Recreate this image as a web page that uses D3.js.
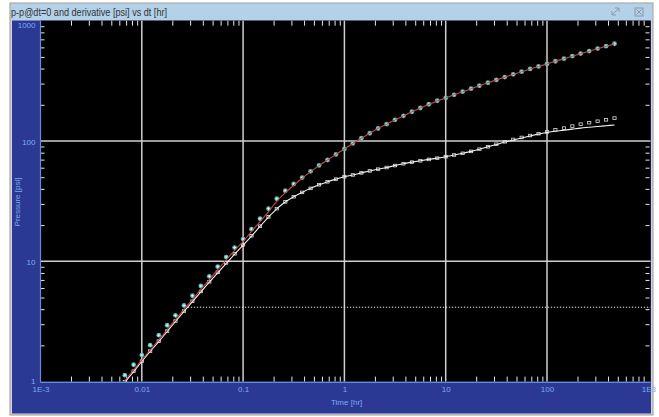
<!DOCTYPE html>
<html><head><meta charset="utf-8">
<script src="https://cdn.jsdelivr.net/npm/d3@7"></script>
<style>html,body{margin:0;padding:0;background:#fff;overflow:hidden}</style>
</head><body><svg id="c" width="659" height="417"></svg>
<script>
// ---- data ----
const time = [0.0056, 0.0068, 0.0083, 0.01, 0.0121, 0.0147, 0.0178, 0.0215, 0.0261, 0.0316,
  0.0383, 0.0464, 0.0562, 0.0681, 0.0825, 0.1, 0.121, 0.147, 0.178, 0.215,
  0.261, 0.316, 0.383, 0.464, 0.562, 0.681, 0.825, 1, 1.21, 1.47,
  1.78, 2.15, 2.61, 3.16, 3.83, 4.64, 5.62, 6.81, 8.25, 10,
  12.1, 14.7, 17.8, 21.5, 26.1, 31.6, 38.3, 46.4, 56.2, 68.1,
  82.5, 100, 121, 147, 178, 215, 261, 316, 383, 464];
const pressure = [null, 1.13, 1.38, 1.66, 2.01, 2.43, 2.94, 3.55, 4.29, 5.17,
  6.23, 7.50, 9.03, 10.85, 13.0, 15.3, 18.5, 22.6, 27.4, 33.1,
  38.6, 43.9, 49.7, 56.0, 62.6, 69.5, 77.3, 86, 95.5, 105.5,
  116, 127, 138, 150, 162, 175, 188, 202, 216, 228,
  242, 257, 272, 288, 305, 322, 340, 358, 377, 397,
  417, 437, 460, 483, 508, 533, 559, 586, 614, 643];
const pressureModel = [0.84, 1.02, 1.25, 1.51, 1.83, 2.22, 2.70, 3.28, 3.98, 4.82,
  5.84, 7.05, 8.52, 10.3, 12.35, 14.6, 17.7, 21.4, 25.8, 31.5,
  37.2, 42.8, 49.0, 55.6, 62.4, 69.4, 77.2, 85.8, 95.3, 105.3,
  115.8, 126.8, 137.8, 149.8, 161.8, 174.8, 187.8, 201.5, 215.5, 228,
  242, 256.5, 271.5, 287.5, 304.5, 321.5, 339.5, 357.5, 376.5, 396.5,
  416.5, 436.5, 459.5, 482.5, 507, 532, 558, 585, 613, 642];
const derivative = [null, 1.0, 1.22, 1.48, 1.79, 2.17, 2.63, 3.19, 3.86, 4.66,
  5.62, 6.76, 8.1, 9.7, 11.55, 13.7, 16.3, 19.6, 23.4, 27.4,
  31.2, 34.4, 37.4, 40.4, 43.3, 45.8, 48.2, 50.5, 52.2, 54.3,
  56.4, 58.3, 60.2, 62.5, 64.8, 66.7, 68.5, 70.3, 72.0, 74,
  76.5, 79, 82, 85.5, 89.5, 94, 98.5, 103, 107, 111,
  115, 119, 124, 128, 133, 138, 142, 146, 150, 155];
const derivativeModel = [0.82, 0.99, 1.21, 1.47, 1.78, 2.15, 2.61, 3.16, 3.83, 4.62,
  5.57, 6.7, 8.03, 9.6, 11.45, 13.6, 16.2, 19.5, 23.3, 27.3,
  31.1, 34.4, 37.4, 40.4, 43.3, 45.8, 48.2, 50.5, 52.2, 54.3,
  56.4, 58.3, 60.2, 62.5, 64.8, 66.7, 68.5, 70.3, 72.0, 74,
  76.5, 79, 82, 85.5, 89.5, 93.5, 98, 102, 106, 110,
  114, 117.5, 120.5, 123, 125.5, 128, 130, 132, 134, 136];
const xTicks = [1e-3, 1e-2, 1e-1, 1, 10, 100, 1000];
const xTickLabels = ["1E-3", "0.01", "0.1", "1", "10", "100", "1E3"];
const yTicks = [1, 10, 100, 1000];
const yTickLabels = ["1", "10", "100", "1000"];
const refLevel = 4.15, refStart = 0.0285;
const title = "p-p@dt=0 and derivative [psi] vs dt [hr]";
const xTitle = "Time [hr]";
const yTitle = "Pressure [psi]";

// ---- layout ----
const L = 40.5, R = 650.5, T = 20.7, B = 381.6;
const svg = d3.select("#c");
const x = d3.scaleLog().domain([1e-3, 1e3]).range([L, L + 6 * 101.3]);
const y = d3.scaleLog().domain([1, 1000]).range([B, T]);
const lblFont = "'Liberation Sans Narrow','Liberation Sans',Arial,sans-serif";
const lblColor = "#7eaaf0";

svg.append("rect").attr("width", 659).attr("height", 417).attr("fill", "#fff");
// window frame
svg.append("rect").attr("x", 10).attr("y", 3).attr("width", 643).attr("height", 412)
  .attr("fill", "#d4d4d4").attr("stroke", "#9a9a9a").attr("stroke-width", 1);
svg.append("rect").attr("x", 11).attr("y", 4).attr("width", 641).attr("height", 16)
  .attr("fill", "#b3d1e8");
svg.append("text").attr("x", 11).attr("y", 16).attr("font-family", "'Liberation Sans',Arial,sans-serif")
  .attr("font-size", 10).attr("fill", "#333").attr("textLength", 156)
  .attr("lengthAdjust", "spacingAndGlyphs").text(title);
// title bar buttons
const btn = svg.append("g").attr("stroke", "#8a9aa8").attr("stroke-width", 1).attr("fill", "none");
btn.append("path").attr("d", "M612,15 L619,8 M615,8 L619,8 L619,12 M612,11 L612,15 L616,15");
btn.append("rect").attr("x", 635).attr("y", 8).attr("width", 8).attr("height", 8);
btn.append("path").attr("d", "M636.5,9.5 L641.5,14.5 M641.5,9.5 L636.5,14.5");

// blue panel
svg.append("rect").attr("x", 12).attr("y", 20.5).attr("width", 639).attr("height", 393)
  .attr("fill", "#2b3995");
// plot area
svg.append("rect").attr("x", L).attr("y", T).attr("width", R - L).attr("height", B - T)
  .attr("fill", "#000");
svg.append("defs").append("clipPath").attr("id", "clip")
  .append("rect").attr("x", L).attr("y", T).attr("width", R - L).attr("height", B - T);

// gridlines
const grid = svg.append("g").attr("stroke", "#cfcfcf").attr("stroke-width", 1.5);
xTicks.slice(1, -1).forEach(v => grid.append("line")
  .attr("x1", x(v)).attr("x2", x(v)).attr("y1", T).attr("y2", B));
yTicks.slice(1, -1).forEach(v => grid.append("line")
  .attr("x1", L).attr("x2", R).attr("y1", y(v)).attr("y2", y(v)));

// minor ticks
const xMinor = [], yMinor = [];
xTicks.slice(0, -1).forEach(d => { for (let k = 2; k <= 9; k++) xMinor.push(d * k); });
yTicks.slice(0, -1).forEach(d => { for (let k = 2; k <= 9; k++) yMinor.push(d * k); });
function tickAxis(axis, tx, ty) {
  const g = svg.append("g").attr("transform", `translate(${tx},${ty})`).call(axis);
  g.select(".domain").remove();
  g.selectAll(".tick line").attr("stroke", "#e8e8e8").attr("stroke-width", 1);
  g.selectAll(".tick text").remove();
  return g;
}
tickAxis(d3.axisBottom(x).tickValues(xMinor).tickSize(-5).tickFormat(""), 0, B);
tickAxis(d3.axisTop(x).tickValues(xMinor).tickSize(-5).tickFormat(""), 0, T);
tickAxis(d3.axisLeft(y).tickValues(yMinor).tickSize(-4).tickFormat(""), L, 0);
tickAxis(d3.axisRight(y).tickValues(yMinor).tickSize(-4).tickFormat(""), R - 1, 0);

// axis lines
svg.append("line").attr("x1", L).attr("x2", L).attr("y1", T).attr("y2", B + 1)
  .attr("stroke", "#5d8fe0").attr("stroke-width", 1.2);
svg.append("line").attr("x1", L).attr("x2", R).attr("y1", B + 0.8).attr("y2", B + 0.8)
  .attr("stroke", "#5d8fe0").attr("stroke-width", 1.2);

// tick labels
const xl = svg.append("g").attr("transform", `translate(0,${B + 2})`)
  .call(d3.axisBottom(x).tickValues(xTicks).tickSize(0)
    .tickFormat((d, i) => xTickLabels[i]));
xl.select(".domain").remove();
xl.selectAll("text").attr("font-family", lblFont).attr("font-size", 8).attr("fill", lblColor);
const yl = svg.append("g").attr("transform", `translate(${L - 2},0)`)
  .call(d3.axisLeft(y).tickValues(yTicks).tickSize(0)
    .tickFormat((d, i) => yTickLabels[i]));
yl.select(".domain").remove();
yl.selectAll("text").attr("font-family", lblFont).attr("font-size", 8).attr("fill", lblColor)
  .attr("dy", (d) => d === 1000 ? "0.9em" : (d === 1 ? "0.2em" : "0.45em"));
svg.append("text").attr("x", 331).attr("y", 405).attr("font-family", lblFont)
  .attr("font-size", 8).attr("fill", lblColor).text(xTitle);
svg.append("text").attr("transform", "translate(20,202) rotate(-90)").attr("text-anchor", "middle")
  .attr("font-family", lblFont).attr("font-size", 8).attr("fill", lblColor).text(yTitle);

// data
const plot = svg.append("g").attr("clip-path", "url(#clip)");
const line = (arr) => d3.line().defined(i => arr[i] != null)
  .x(i => x(time[i])).y(i => y(arr[i])).curve(d3.curveMonotoneX)(d3.range(time.length));

// reference dotted level
plot.append("line").attr("x1", x(refStart)).attr("x2", R).attr("y1", y(refLevel)).attr("y2", y(refLevel))
  .attr("stroke", "#e6e6e6").attr("stroke-width", 1).attr("stroke-dasharray", "1.3,1.7");

// pressure markers
const pIdx = d3.range(time.length).filter(i => pressure[i] != null);
const pm = plot.append("g").selectAll("g").data(pIdx).join("g")
  .attr("transform", i => `translate(${x(time[i])},${y(pressure[i])})`);
pm.append("circle").attr("r", 2.4).attr("fill", "#4fb6b4");
pm.append("path").attr("d", "M-1.4,0H1.4M0,-1.4V1.4").attr("stroke", "#e9ffff").attr("stroke-width", 0.8);

// derivative markers
const dIdx = d3.range(time.length).filter(i => derivative[i] != null);
plot.append("g").selectAll("rect").data(dIdx).join("rect")
  .attr("x", i => x(time[i]) - 1.6).attr("y", i => y(derivative[i]) - 1.3)
  .attr("width", 3.2).attr("height", 2.6).attr("fill", "none")
  .attr("stroke", "#dedede").attr("stroke-width", 0.8);

// model lines
plot.append("path").attr("d", line(derivativeModel)).attr("fill", "none")
  .attr("stroke", "#f2f2f2").attr("stroke-width", 1.1);
plot.append("path").attr("d", line(pressureModel)).attr("fill", "none")
  .attr("stroke", "#c8474a").attr("stroke-width", 1.1);
</script></body></html>
